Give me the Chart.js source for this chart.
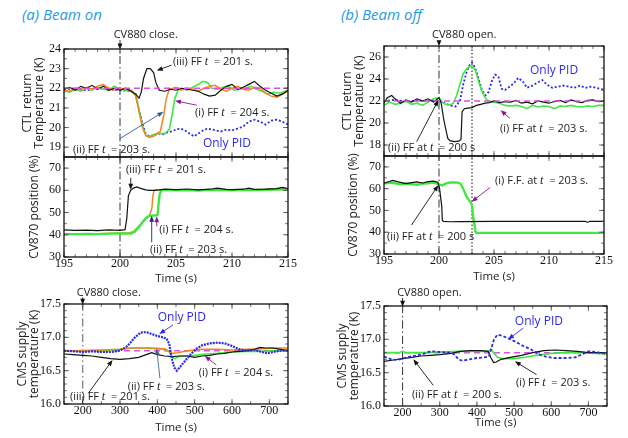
<!DOCTYPE html>
<html>
<head>
<meta charset="utf-8">
<script src="https://cdn.jsdelivr.net/npm/chart.js@4.4.1/dist/chart.umd.min.js"></script>
<style>
  body { margin: 0; background: #fff; width: 628px; height: 438px; overflow: hidden; }
  canvas { position: absolute; }
  .ttl { position: absolute; font: italic 15px "Open Sans", sans-serif; color: #1e9be0; }
</style>
</head>
<body>
<div class="ttl" style="left:22px; top:4px;">(a) Beam on</div>
<div class="ttl" style="left:341px; top:4px;">(b) Beam off</div>
<canvas id="a1" width="283" height="140" style="left:19px; top:29px;"></canvas>
<canvas id="a2" width="276" height="141" style="left:26px; top:145px;"></canvas>
<canvas id="a3" width="288" height="151" style="left:14px; top:284px;"></canvas>
<canvas id="b1" width="279" height="142" style="left:339px; top:26px;"></canvas>
<canvas id="b2" width="273" height="140" style="left:345px; top:144px;"></canvas>
<canvas id="b3" width="287" height="146" style="left:334px; top:284px;"></canvas>
<script>
// ---- data: [time (s), value] ----
// (a) beam on, CTL return temperature (K)
var a1Black = [[195,21.95],[195.5,22.05],[196,21.9],[196.5,22.1],[197,22.0],[197.5,22.15],[198,21.95],[198.5,22.1],[199,21.9],[199.5,22.0],[200,21.9],[200.5,22.0],[201,21.85],[201.4,21.7],[201.7,21.5],[201.9,21.8],[202.1,22.5],[202.4,23.0],[202.7,23.0],[203,22.8],[203.2,22.3],[203.5,21.9],[204,21.85],[204.5,21.95],[205,21.9],[205.5,22.0],[206,21.95],[206.5,21.9],[207,21.85],[207.5,21.7],[208,21.6],[208.5,21.65],[209,21.9],[209.5,22.1],[210,22.2],[210.5,21.95],[211,22.05],[211.5,22.2],[212,22.35],[212.5,22.1],[213,21.9],[213.5,21.75],[214,21.6],[214.5,21.7],[215,21.9]];
var a1Orange = [[195,21.9],[195.5,21.85],[196,22.0],[196.5,21.9],[197,22.05],[197.5,21.95],[198,22.1],[198.5,22.2],[199,22.0],[199.5,21.9],[200,22.0],[200.5,21.95],[201,21.9],[201.4,21.6],[201.7,20.8],[202,20.0],[202.3,19.6],[202.6,19.5],[203,19.55],[203.3,19.7],[203.6,19.8],[203.9,20.6],[204.1,21.4],[204.4,21.95],[205,22.05],[205.5,21.9],[206,22.0],[206.5,21.95],[207,21.85],[207.5,22.0],[208,22.1],[208.5,22.15],[209,21.95],[209.5,21.85],[210,22.0],[210.5,22.1],[211,21.95],[211.5,21.9],[212,22.05],[212.5,22.0],[213,21.75],[213.5,21.6],[214,21.55],[214.5,21.7],[215,21.85]];
var a1Green = [[195,21.85],[195.5,21.8],[196,21.95],[196.5,21.85],[197,22.0],[197.5,21.9],[198,22.05],[198.5,21.95],[199,21.9],[199.5,22.1],[200,21.95],[200.5,21.9],[201,21.85],[201.4,21.7],[201.7,20.9],[202,20.1],[202.3,19.6],[202.6,19.55],[203,19.65],[203.5,19.7],[204,19.7],[204.4,19.9],[204.7,20.8],[204.9,21.5],[205.2,21.9],[205.5,22.0],[206,21.9],[206.5,22.05],[207,22.2],[207.4,22.35],[207.8,22.3],[208.2,22.0],[208.7,21.95],[209.2,22.05],[209.7,22.1],[210.2,21.9],[210.7,21.95],[211.2,22.0],[211.7,22.1],[212.2,21.95],[212.7,21.85],[213.2,21.7],[213.7,21.8],[214.3,21.75],[215,21.9]];
var a1Pid = [[195,21.95],[196,22.0],[197,21.9],[198,22.0],[199,21.95],[200,21.9],[201,21.85],[201.4,21.7],[201.7,20.9],[202,20.2],[202.3,19.7],[202.6,19.55],[203,19.6],[203.4,19.7],[203.8,19.65],[204.2,19.75],[204.6,19.8],[205,19.9],[205.4,19.95],[205.8,19.85],[206.2,19.7],[206.6,19.55],[207,19.7],[207.4,19.85],[207.8,19.95],[208.2,19.9],[208.6,19.85],[209,19.8],[209.5,19.9],[210,19.85],[210.5,19.95],[211,20.05],[211.5,20.3],[212,20.4],[212.5,20.3],[213,20.15],[213.5,20.35],[214,20.4],[214.5,20.3],[215,20.15]];

// (a) beam on, CV870 position (%)
var a2Black = [[195,42.2],[196,42.0],[197,42.1],[198,41.9],[199,42.2],[200,42.0],[200.45,42.3],[200.6,47],[200.75,57.5],[200.95,60.0],[201.2,61.0],[201.5,61.5],[201.9,60.8],[202.3,60.2],[202.6,60.0],[203,60.0],[203.5,60.2],[204,60.5],[205,60.3],[206,60.6],[207,60.2],[208,60.5],[208.7,61.0],[209.5,60.4],[210,60.3],[211,60.5],[211.5,61.0],[212,60.4],[213,60.5],[214,60.8],[214.5,61.3],[215,60.8]];
var a2Orange = [[195,40.5],[197,40.4],[199,40.6],[200,40.8],[200.8,40.8],[201.2,41.5],[201.6,43.5],[202,45.5],[202.4,47.5],[202.7,49.5],[202.85,52],[202.95,58],[203.05,60.0],[203.5,60.2],[204,60.1],[206,60.0],[208,60.2],[210,60.0],[212,60.2],[214,60.8],[215,60.6]];
var a2Green = [[195,40.3],[196,40.3],[197,40.4],[198,40.3],[199,40.5],[200,40.6],[200.5,40.5],[201,40.6],[201.3,41.2],[201.7,43.5],[202,45.5],[202.3,47.5],[202.6,48.5],[203,48.7],[203.35,48.8],[203.45,54],[203.55,58.5],[203.7,60.0],[204,60.2],[205,60.0],[206,60.1],[207,59.9],[208,60.2],[209,60.1],[210,60.0],[211,60.2],[212,60.1],[213,60.2],[214,60.4],[215,60.3]];

// (a) beam on, CMS supply temperature (K)
var a3Pid = [[150,16.8],[175,16.79],[200,16.78],[225,16.79],[250,16.78],[275,16.78],[300,16.8],[320,16.87],[340,17.0],[355,17.07],[370,17.08],[385,17.05],[400,17.02],[415,17.0],[425,16.98],[432,16.9],[438,16.7],[445,16.55],[452,16.5],[460,16.55],[475,16.65],[490,16.75],[505,16.83],[520,16.88],[540,16.91],[560,16.92],[580,16.91],[600,16.87],[620,16.82],[640,16.8],[660,16.81],[680,16.78],[695,16.76],[710,16.78],[730,16.8],[750,16.8]];
var a3Green = [[150,16.79],[200,16.8],[250,16.8],[300,16.82],[330,16.84],[360,16.84],[400,16.83],[420,16.82],[432,16.78],[440,16.7],[448,16.68],[460,16.72],[480,16.72],[500,16.73],[530,16.75],[560,16.76],[600,16.78],[640,16.79],[680,16.79],[720,16.8],[750,16.8]];
var a3Orange = [[150,16.8],[200,16.8],[250,16.81],[300,16.82],[330,16.84],[380,16.84],[420,16.83],[440,16.76],[455,16.77],[480,16.8],[520,16.82],[560,16.82],[600,16.81],[640,16.82],[680,16.83],[720,16.84],[750,16.84]];
var a3Black = [[150,16.75],[175,16.74],[200,16.73],[225,16.72],[250,16.7],[275,16.68],[300,16.67],[325,16.68],[350,16.7],[370,16.74],[385,16.77],[400,16.74],[420,16.72],[440,16.71],[460,16.72],[480,16.72],[500,16.7],[520,16.72],[540,16.73],[560,16.75],[580,16.76],[600,16.78],[620,16.79],[640,16.8],[660,16.82],[675,16.85],[690,16.84],[710,16.84],[730,16.82],[750,16.8]];

// (b) beam off, CTL return temperature (K)
var b1Pid = [[195,22.0],[196,22.1],[197,21.95],[198,22.05],[199,22.0],[200,22.05],[200.5,21.8],[201,21.6],[201.5,21.5],[201.9,22.0],[202.2,23.5],[202.5,24.6],[202.8,25.3],[203,25.5],[203.3,25.0],[203.6,24.0],[203.9,23.0],[204.2,22.5],[204.5,22.8],[204.8,23.8],[205.1,24.4],[205.4,24.2],[205.7,23.1],[206,23.0],[206.4,23.3],[206.8,23.6],[207.2,24.1],[207.6,23.8],[208,23.2],[208.5,23.4],[209,23.7],[209.4,23.9],[209.8,23.5],[210.3,23.2],[210.8,23.3],[211.3,23.4],[211.8,23.3],[212.3,23.2],[212.8,23.4],[213.3,23.2],[213.8,23.3],[214.3,23.2],[215,23.0]];
var b1Green = [[195,21.6],[195.5,21.9],[196,21.7],[196.5,21.8],[197,22.0],[197.5,21.7],[198,21.8],[198.5,21.6],[199,21.9],[199.5,22.2],[200,22.3],[200.3,21.9],[200.6,21.7],[201,21.65],[201.3,21.8],[201.6,22.5],[201.9,23.5],[202.2,24.5],[202.5,24.9],[202.8,25.15],[203,25.2],[203.3,24.8],[203.6,23.8],[203.9,22.9],[204.2,22.3],[204.5,22.0],[205,21.9],[205.5,21.8],[206,21.6],[206.5,21.55],[207,21.6],[207.5,21.5],[208,21.3],[208.5,21.6],[209,21.45],[209.5,21.55],[210,21.5],[210.5,21.3],[211,21.55],[211.5,21.5],[212,21.6],[212.5,21.5],[213,21.45],[213.5,21.55],[214,21.5],[214.5,21.6],[215,21.6]];
var b1Black = [[195,21.8],[195.3,22.3],[195.7,22.5],[196,22.2],[196.5,21.8],[197,22.1],[197.5,21.9],[198,22.2],[198.5,22.0],[199,22.2],[199.5,21.9],[200,22.3],[200.2,21.8],[200.4,20.5],[200.6,19.5],[200.8,18.6],[201,18.4],[201.4,18.3],[201.8,18.35],[202,18.5],[202.1,21.0],[202.3,21.3],[202.6,21.35],[203,21.4],[203.4,21.6],[203.8,21.7],[204.2,21.8],[204.6,21.85],[205,22.0],[205.5,21.85],[206,21.95],[206.5,21.9],[207,22.05],[207.5,21.8],[208,21.9],[208.5,21.75],[209,22.0],[209.5,21.9],[210,21.8],[210.5,21.95],[211,22.05],[211.5,21.85],[212,22.1],[212.5,21.95],[213,21.85],[213.5,22.05],[214,22.1],[214.5,21.95],[215,22.0]];

// (b) beam off, CV870 position (%)
var b2Black = [[195,62.5],[195.4,63.2],[195.8,63.8],[196.2,63.2],[196.6,62.8],[197,62.3],[197.5,62.8],[198,63.1],[198.5,62.6],[199,63.2],[199.5,63.5],[199.9,63.0],[200.05,60],[200.15,56],[200.25,52],[200.3,45.5],[200.4,45],[201,44.8],[202,44.9],[205,45.0],[210,45.0],[213.3,45.0],[213.5,44.5],[213.7,45.0],[215,45.0]];
var b2Green = [[195,62.3],[195.5,62.8],[196,62.5],[196.5,62.0],[197,62.4],[197.5,62.1],[198,61.8],[198.5,62.3],[199,62.5],[199.5,62.8],[200,62.0],[200.3,61.5],[200.6,62.3],[201,62.8],[201.5,62.9],[201.8,62.7],[202,62.0],[202.2,60],[202.4,57.5],[202.6,55.5],[202.9,53.5],[203,52.5],[203.1,47],[203.2,44.5],[203.3,40.5],[203.4,39.7],[205,39.7],[210,39.7],[215,39.7]];

// (b) beam off, CMS supply temperature (K)
var b3Pid = [[150,16.74],[170,16.7],[185,16.69],[200,16.71],[220,16.74],[250,16.77],[275,16.82],[300,16.81],[330,16.8],[340,16.77],[350,16.7],[360,16.68],[380,16.7],[400,16.72],[420,16.73],[432,16.74],[438,16.85],[446,17.0],[455,17.07],[470,17.05],[490,17.0],[505,16.96],[525,16.9],[545,16.85],[565,16.78],[585,16.74],[610,16.72],[640,16.72],[665,16.73],[685,16.78],[700,16.82],[720,16.81],[750,16.78]];
var b3Green = [[150,16.8],[190,16.8],[200,16.82],[210,16.8],[250,16.8],[300,16.81],[350,16.82],[400,16.82],[430,16.82],[438,16.85],[445,16.8],[455,16.73],[470,16.71],[500,16.71],[530,16.73],[560,16.76],[600,16.79],[640,16.8],[680,16.8],[720,16.79],[750,16.78]];
var b3Black = [[150,16.67],[175,16.69],[200,16.71],[225,16.73],[250,16.75],[275,16.76],[300,16.77],[330,16.79],[355,16.82],[380,16.83],[410,16.83],[430,16.82],[438,16.72],[445,16.65],[452,16.66],[465,16.7],[490,16.73],[520,16.76],[550,16.8],[580,16.83],[610,16.84],[640,16.83],[670,16.82],[700,16.8],[730,16.8],[750,16.8]];

// set points and event times
var ctlSetpoint = 22, cmsSetpoint = 16.8;
var cv880Time = 200, ffTimeOff = 203;

// tick labels
var fastTicks = [195, 200, 205, 210, 215];
var slowTicks = [200, 300, 400, 500, 600, 700];
var a1Ticks = [19, 20, 21, 22, 23, 24];
var b1Ticks = [18, 20, 22, 24, 26];
var cvTicks = [30, 40, 50, 60, 70];
var cmsTicks = [16.0, 16.5, 17.0, 17.5];

var GREEN = '#3fe83f', ORANGE = '#f3861e', BLUE = '#2b2be6', MAGENTA = '#e04ee6', PURPLE = '#8a1a8a';

function pts(arr) { return arr.map(p => ({x: p[0], y: p[1]})); }

// frame with inward ticks on all four sides
var framePlugin = {
    id: 'frame',
    afterDatasetsDraw(chart, args, o) {
        var ctx = chart.ctx, a = chart.chartArea, x = chart.scales.x, y = chart.scales.y;
        ctx.save();
        ctx.strokeStyle = '#555';
        ctx.lineWidth = 0.8;
        function ticks(scale, step, len, horiz) {
            var n0 = Math.ceil(scale.min / step - 1e-6), n1 = Math.floor(scale.max / step + 1e-6);
            for (var n = n0; n <= n1; n++) {
                var p = scale.getPixelForValue(n * step);
                ctx.beginPath();
                if (horiz) {
                    ctx.moveTo(p, a.bottom); ctx.lineTo(p, a.bottom - len);
                    ctx.moveTo(p, a.top); ctx.lineTo(p, a.top + len);
                } else {
                    ctx.moveTo(a.left, p); ctx.lineTo(a.left + len, p);
                    ctx.moveTo(a.right, p); ctx.lineTo(a.right - len, p);
                }
                ctx.stroke();
            }
        }
        ticks(x, o.xMinor, 3, true); ticks(x, o.xMajor, 5, true);
        ticks(y, o.yMinor, 3, false); ticks(y, o.yMajor, 5, false);
        ctx.strokeStyle = '#111';
        ctx.lineWidth = 1.3;
        ctx.strokeRect(a.left, a.top, a.right - a.left, a.bottom - a.top);
        ctx.restore();
    }
};

// labels and arrows placed in data coordinates; *t* is set in italic
var notesPlugin = {
    id: 'notes',
    afterDraw(chart, args, o) {
        var ctx = chart.ctx, x = chart.scales.x, y = chart.scales.y;
        ctx.save();
        (o.arrows || []).forEach(function (r) {
            var x0 = x.getPixelForValue(r.from[0]), y0 = y.getPixelForValue(r.from[1]);
            var x1 = x.getPixelForValue(r.to[0]), y1 = y.getPixelForValue(r.to[1]);
            var ang = Math.atan2(y1 - y0, x1 - x0), c = Math.cos(ang), s = Math.sin(ang);
            ctx.strokeStyle = ctx.fillStyle = r.color || '#111';
            ctx.lineWidth = 0.9;
            ctx.beginPath(); ctx.moveTo(x0, y0); ctx.lineTo(x1 - 4 * c, y1 - 4 * s); ctx.stroke();
            ctx.beginPath();
            ctx.moveTo(x1, y1);
            ctx.lineTo(x1 - 6 * c + 2.4 * s, y1 - 6 * s - 2.4 * c);
            ctx.lineTo(x1 - 6 * c - 2.4 * s, y1 - 6 * s + 2.4 * c);
            ctx.closePath(); ctx.fill();
        });
        (o.labels || []).forEach(function (l) {
            var px = x.getPixelForValue(l.at[0]), py = y.getPixelForValue(l.at[1]);
            var parts = l.text.split('*');
            var fonts = parts.map((p, i) => i % 2 ? 'italic 12px "Liberation Serif"' : (l.font || '11px "Open Sans"'));
            var w = 0;
            parts.forEach((p, i) => { ctx.font = fonts[i]; w += ctx.measureText(p).width; });
            if (l.center) px -= w / 2;
            ctx.textAlign = 'left';
            ctx.textBaseline = 'middle';
            ctx.fillStyle = l.color || '#222';
            parts.forEach((p, i) => { ctx.font = fonts[i]; ctx.fillText(p, px, py); px += ctx.measureText(p).width; });
        });
        ctx.restore();
    }
};

function line(data, color, width, dash) {
    return {data: data, borderColor: color, borderWidth: width, borderDash: dash || [],
            pointRadius: 0, fill: false, tension: 0};
}

function makePanel(id, p) {
    var yAxis = {
        min: p.yMin, max: p.yMax,
        afterFit: s => { s.width = p.yw; },
        afterBuildTicks: s => { s.ticks = p.yTicks.map(v => ({value: v})); },
        grid: {display: false, drawTicks: false},
        border: {display: false},
        ticks: {padding: 3, color: '#111', font: {family: 'Liberation Serif', size: 12},
                callback: v => p.yDec ? v.toFixed(p.yDec) : v},
        title: {display: true, text: p.yTitle, color: '#222',
                font: {family: 'Open Sans', size: 12, lineHeight: 1.05}, padding: {top: 2, bottom: 0}}
    };
    var xAxis = {
        type: 'linear', min: p.xMin, max: p.xMax, display: !!p.xh,
        afterBuildTicks: s => { s.ticks = p.xTicks.map(v => ({value: v})); },
        grid: {display: false, drawTicks: false},
        border: {display: false},
        ticks: {padding: 0, maxRotation: 0, autoSkip: false, color: '#111',
                font: {family: 'Liberation Serif', size: 12}},
        title: {display: true, text: 'Time (s)', color: '#222',
                font: {family: 'Open Sans', size: 11.5}, padding: {top: 0, bottom: 0}}
    };
    if (p.xh) xAxis.afterFit = s => { s.height = p.xh; };
    return new Chart(document.getElementById(id), {
        type: 'line',
        data: {datasets: p.datasets},
        options: {
            responsive: false, animation: false,
            layout: {padding: {left: 0, right: 14, top: p.pt, bottom: p.pb || 0}},
            scales: {x: xAxis, y: yAxis},
            plugins: {legend: {display: false}, tooltip: {enabled: false},
                      frame: p.frame, notes: p.notes}
        },
        plugins: [framePlugin, notesPlugin]
    });
}

function vline(t, lo, hi, color, width, dash) {
    return line([{x: t, y: lo}, {x: t, y: hi}], color, width, dash);
}
function hline(v, lo, hi) {
    return line([{x: lo, y: v}, {x: hi, y: v}], MAGENTA, 1.5, [6, 4]);
}
var dashDot = [8, 3, 1.5, 3];

// (a) top
makePanel('a1', {
    xMin: 195, xMax: 215, yMin: 18.5, yMax: 24, yw: 45, pt: 20, pb: 12,
    xTicks: fastTicks, yTicks: a1Ticks, yTitle: ['CTL return', 'Temperature (K)'],
    frame: {xMajor: 5, xMinor: 1, yMajor: 1, yMinor: 0.5},
    datasets: [
        hline(ctlSetpoint, 195, 215),
        line(pts(a1Black), '#111', 1.2),
        line(pts(a1Orange), ORANGE, 1.5),
        line(pts(a1Green), GREEN, 1.6),
        line(pts(a1Pid), BLUE, 1.8, [2, 2]),
        vline(cv880Time, 18.5, 24, '#333', 1, dashDot)
    ],
    notes: {
        labels: [
            {at: [202.3, 24.71], text: 'CV880 close.', center: true},
            {at: [204.73, 23.34], text: '(iii) FF *t*  = 201 s.'},
            {at: [206.7, 20.75], text: '(i) FF *t*  = 204 s.'},
            {at: [195.8, 18.85], text: '(ii) FF *t*  = 203 s.'},
            {at: [207.4, 19.19], text: 'Only PID', color: BLUE, font: '12px "Open Sans"'}
        ],
        arrows: [
            {from: [200, 24.45], to: [200, 23.98]},
            {from: [204.6, 23.18], to: [203.28, 22.9]},
            {from: [206.85, 21.14], to: [204.91, 21.36], color: PURPLE},
            {from: [200.0, 19.44], to: [203.87, 20.8], color: '#2a5a9a'}
        ]
    }
});

// (a) middle
makePanel('a2', {
    xMin: 195, xMax: 215, yMin: 30, yMax: 75, yw: 38, pt: 12, xh: 29,
    xTicks: fastTicks, yTicks: cvTicks, yTitle: 'CV870 position (%)',
    frame: {xMajor: 5, xMinor: 1, yMajor: 10, yMinor: 5},
    datasets: [
        line(pts(a2Black), '#111', 1.2),
        line(pts(a2Green), GREEN, 2.4),
        line(pts(a2Orange), ORANGE, 1.5),
        vline(cv880Time, 30, 75, '#333', 1, dashDot)
    ],
    notes: {
        labels: [
            {at: [200.54, 69.1], text: '(iii) FF *t*  = 201 s.'},
            {at: [203.5, 42.0], text: '(i) FF *t*  = 204 s.'},
            {at: [202.68, 33.1], text: '(ii) FF *t*  = 203 s.'}
        ],
        arrows: [
            {from: [200.96, 65.6], to: [200.96, 60.3]},
            {from: [203.28, 43.8], to: [203.28, 48.3], color: PURPLE},
            {from: [202.83, 36.6], to: [202.83, 48.6], color: '#1a2a6a'}
        ]
    }
});

// (a) bottom
makePanel('a3', {
    xMin: 150, xMax: 750, yMin: 16, yMax: 17.5, yw: 50, pt: 20, xh: 31, yDec: 1,
    xTicks: slowTicks, yTicks: cmsTicks, yTitle: ['CMS supply', 'temperature (K)'],
    frame: {xMajor: 100, xMinor: 50, yMajor: 0.5, yMinor: 0.1},
    datasets: [
        line(pts(a3Pid), BLUE, 2.2, [2, 1]),
        line(pts(a3Black), '#111', 1.2),
        line(pts(a3Orange), ORANGE, 1.5),
        line(pts(a3Green), GREEN, 1.6),
        hline(cmsSetpoint, 150, 750),
        vline(cv880Time, 16, 17.5, '#888', 1.4, dashDot)
    ],
    notes: {
        labels: [
            {at: [270, 17.665], text: 'CV880 close.', center: true},
            {at: [401, 17.30], text: 'Only PID', color: BLUE, font: '12px "Open Sans"'},
            {at: [511, 16.46], text: '(i) FF *t*  = 204 s.'},
            {at: [321, 16.26], text: '(ii) FF *t*  = 203 s.'},
            {at: [166, 16.10], text: '(iii) FF *t*  = 201 s.'}
        ],
        arrows: [
            {from: [200, 17.6], to: [200, 17.49]},
            {from: [442, 17.185], to: [405, 17.05], color: BLUE},
            {from: [558, 16.585], to: [527, 16.72], color: PURPLE},
            {from: [407, 16.386], to: [398, 16.836], color: '#3a6a9a'},
            {from: [215, 16.16], to: [280, 16.66]}
        ]
    }
});

// (b) top
makePanel('b1', {
    xMin: 195, xMax: 215, yMin: 17, yMax: 27, yw: 45, pt: 20, pb: 12,
    xTicks: fastTicks, yTicks: b1Ticks, yTitle: ['CTL return', 'Temperature (K)'],
    frame: {xMajor: 5, xMinor: 1, yMajor: 2, yMinor: 1},
    datasets: [
        hline(ctlSetpoint, 195, 215),
        line(pts(b1Black), '#111', 1.2),
        line(pts(b1Green), GREEN, 1.6),
        line(pts(b1Pid), BLUE, 1.8, [2, 2]),
        vline(cv880Time, 17, 27, '#333', 1, dashDot),
        vline(ffTimeOff, 17, 27, '#111', 1, [1.5, 2])
    ],
    notes: {
        labels: [
            {at: [202.3, 27.97], text: 'CV880 open.', center: true},
            {at: [208.27, 24.73], text: 'Only PID', color: BLUE, font: '12px "Open Sans"'},
            {at: [205.55, 19.51], text: '(i) FF at *t*  = 203 s.'},
            {at: [195.36, 17.7], text: '(ii) FF at *t*  = 200 s'}
        ],
        arrows: [
            {from: [200, 27.5], to: [200, 26.98]},
            {from: [206.45, 20.42], to: [205.6, 21.17], color: PURPLE},
            {from: [197.97, 18.3], to: [199.94, 22.08]}
        ]
    }
});

// (b) middle
makePanel('b2', {
    xMin: 195, xMax: 215, yMin: 30, yMax: 75, yw: 39, pt: 12, xh: 30,
    xTicks: fastTicks, yTicks: cvTicks, yTitle: 'CV870 position (%)',
    frame: {xMajor: 5, xMinor: 1, yMajor: 10, yMinor: 5},
    datasets: [
        line(pts(b2Black), '#111', 1.2),
        line(pts(b2Green), GREEN, 2.4),
        vline(cv880Time, 30, 75, '#333', 1, dashDot),
        vline(ffTimeOff, 30, 75, '#111', 1, [1.5, 2])
    ],
    notes: {
        labels: [
            {at: [205.1, 63.6], text: '(i) F.F. at *t*  = 203 s.'},
            {at: [195.27, 37.66], text: '(ii) FF at *t*  = 200 s'}
        ],
        arrows: [
            {from: [204.64, 60.56], to: [202.97, 53.97], color: PURPLE},
            {from: [197.5, 43.3], to: [199.94, 61.6]}
        ]
    }
});

// (b) bottom
makePanel('b3', {
    xMin: 150, xMax: 750, yMin: 16, yMax: 17.5, yw: 50, pt: 22, xh: 24, yDec: 1,
    xTicks: slowTicks, yTicks: cmsTicks, yTitle: ['CMS supply', 'temperature (K)'],
    frame: {xMajor: 100, xMinor: 50, yMajor: 0.5, yMinor: 0.1},
    datasets: [
        line(pts(b3Pid), BLUE, 1.8, [3, 2]),
        line(pts(b3Black), '#111', 1.2),
        line(pts(b3Green), GREEN, 1.6),
        hline(cmsSetpoint, 150, 750),
        vline(cv880Time, 16, 17.5, '#333', 1, dashDot)
    ],
    notes: {
        labels: [
            {at: [272, 17.69], text: 'CV880 open.', center: true},
            {at: [502, 17.27], text: 'Only PID', color: BLUE, font: '12px "Open Sans"'},
            {at: [505, 16.35], text: '(i) FF *t*  = 203 s.'},
            {at: [225, 16.17], text: '(ii) FF at *t*  = 200 s.'}
        ],
        arrows: [
            {from: [200, 17.62], to: [200, 17.49]},
            {from: [524.5, 17.167], to: [484, 17.0], color: BLUE},
            {from: [560.5, 16.47], to: [502, 16.67]},
            {from: [282.5, 16.31], to: [229, 16.7]}
        ]
    }
});
</script>
</body>
</html>
